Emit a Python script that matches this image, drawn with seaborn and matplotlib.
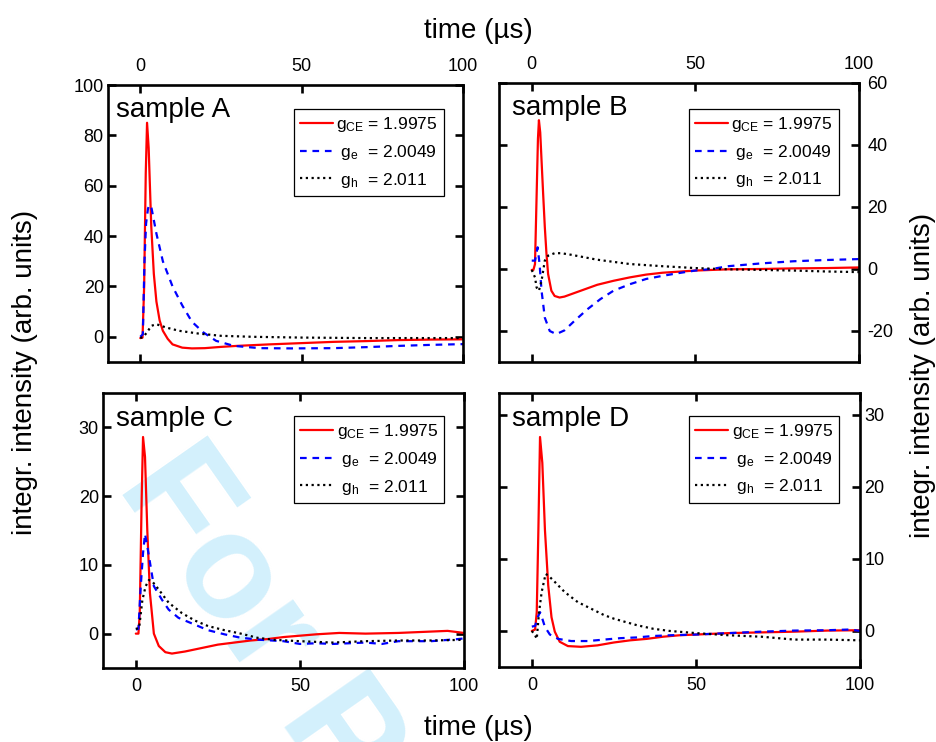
import pandas as pd
import matplotlib
matplotlib.use("Agg")
import matplotlib.pyplot as plt
import seaborn as sns

# sample A
tA_ce = [0, 0.7, 1.2, 1.7, 2.1, 2.6, 3.4, 4.2, 5, 6, 7, 8.5, 10, 13, 16, 20, 25, 30, 40, 50, 60, 70, 80, 90, 100]
A_ce = [-0.5, -0.3, 20, 65, 85, 75, 44, 25, 14, 6.5, 2.4, -0.8, -3, -4.3, -4.6, -4.5, -4, -3.6, -3, -2.5, -2, -1.7, -1.3, -1.1, -1]
tA_e = [0, 0.8, 1.3, 1.8, 2.4, 2.9, 3.5, 5, 7, 10, 13, 16, 19.5, 23.5, 29, 37, 47, 60, 70, 80, 90, 100]
A_e = [0, 1, 30, 45, 51, 52.4, 51, 41, 30, 20, 12.5, 6, 1.8, -1.6, -3.6, -4.5, -4.6, -4.5, -4.1, -3.6, -3.2, -2.9]
tA_h = [0, 1, 2, 3.5, 5, 8, 12, 18, 25, 35, 50, 70, 100]
A_h = [-0.5, 0, 1.7, 4.4, 5, 3.7, 2.4, 1.3, 0.4, 0, -0.3, -0.5, -0.5]

# sample B
tB_ce = [0, 0.5, 1, 1.5, 1.9, 2.2, 2.6, 3, 3.5, 4, 4.5, 5, 6, 7, 8.5, 10, 15, 20, 25, 30, 35, 40, 50, 60, 70, 80, 90, 100]
B_ce = [-0.3, -0.3, 1.6, 24, 42, 48, 44, 35, 24, 13.5, 5, -1.6, -7, -8.7, -9.2, -8.9, -7, -5.1, -3.8, -2.7, -1.8, -1.2, -0.5, -0.1, 0, 0.2, 0.3, 0.5]
tB_e = [0, 1, 1.8, 2.4, 3, 4, 5.5, 7.5, 10, 13, 17, 21, 25, 30, 35, 40, 45, 50, 55, 60, 70, 80, 90, 100]
B_e = [2.7, 2.7, 7, 1.6, -7, -15.7, -20, -21, -19.8, -16.8, -13, -9.7, -7, -4.9, -3.2, -2.2, -1.3, -0.5, 0, 0.9, 1.8, 2.5, 2.9, 3.2]
tB_h = [0, 1, 1.5, 2.2, 3, 4, 5, 7, 9, 12, 16, 20, 25, 30, 40, 50, 60, 70, 80, 90, 100]
B_h = [-0.3, -2.7, -6, -7, -3.8, 2.7, 4.3, 5.1, 5.1, 4.6, 3.8, 3, 2.3, 1.6, 0.9, 0.3, -0.1, -0.3, -0.5, -0.8, -1]

# sample C
tC_ce = [0, 0.8, 1.2, 1.8, 2.2, 2.8, 3.5, 4.3, 5.5, 7, 9, 11, 15, 20, 25, 30, 35, 40, 45, 50, 55, 62, 70, 80, 90, 95, 100]
C_ce = [0, 0, 3, 20, 28.6, 25.7, 15, 5.9, 0, -1.8, -2.7, -2.9, -2.6, -2.1, -1.6, -1.3, -1, -0.8, -0.5, -0.3, -0.1, 0.1, 0, 0.1, 0.3, 0.4, 0.1]
tC_e = [0, 0.8, 1.5, 2.2, 2.8, 3.5, 4.5, 5.5, 8, 10, 13, 17, 22, 27, 32, 38, 45, 50, 55, 60, 65, 70, 75, 80, 90, 98, 100]
C_e = [0.6, 0.7, 6.9, 11.7, 14.5, 12.7, 9.8, 6.9, 4.9, 3.5, 2.3, 1.5, 0.5, -0.1, -0.6, -0.9, -1.1, -1.5, -1.4, -1.5, -1.4, -1.3, -1.5, -1.1, -1.1, -0.8, -0.7]
tC_h = [0, 1, 2, 3, 4, 5, 7, 10, 14, 18, 22, 27, 32, 37, 42, 50, 60, 70, 80, 90, 100]
C_h = [0.7, 0.8, 4.9, 6.9, 7.8, 7.6, 6.4, 4.5, 3, 1.9, 1.1, 0.5, 0, -0.6, -0.9, -1.1, -1.3, -1.1, -1, -1, -0.9]

# sample D
tD_ce = [0, 1, 1.5, 2, 2.5, 3.2, 4, 5, 6, 7, 8.5, 11, 15, 20, 25, 30, 35, 40, 45, 50, 60, 70, 80, 90, 100]
D_ce = [0, 0.2, 2.6, 14, 26.9, 23.3, 14, 6.3, 1.9, -0.1, -1.5, -2.1, -2.2, -2, -1.6, -1.3, -1.1, -0.8, -0.6, -0.5, -0.3, -0.2, -0.1, 0.05, 0.1]
tD_e = [0, 1, 2, 2.5, 3.2, 4, 5.5, 8, 12, 17, 22, 27, 32, 37, 42, 50, 55, 60, 70, 80, 90, 97, 100]
D_e = [0.6, 0.7, 2.1, 2.6, 1.7, 0.55, -0.5, -1.1, -1.4, -1.4, -1.2, -1, -0.9, -0.7, -0.6, -0.5, -0.4, -0.3, -0.1, 0.05, 0.1, 0.2, 0]
tD_h = [0, 1, 1.5, 2.2, 3, 4.2, 5, 7, 10, 14, 18, 22, 25, 32, 37, 42, 50, 60, 70, 80, 90, 100]
D_h = [0, -0.6, -1.1, 2.6, 5.4, 7.9, 7.7, 6.8, 5.4, 4, 3.1, 2.2, 1.7, 0.8, 0.3, 0, -0.3, -0.6, -0.8, -1.2, -1.2, -1.3]

labels = [r'$\mathregular{g_{CE}}$ = 1.9975', r' $\mathregular{g_{e}}$  = 2.0049', r' $\mathregular{g_{h}}$  = 2.011']
samples = ['sample A', 'sample B', 'sample C', 'sample D']
yticks = [[0, 20, 40, 60, 80, 100], [-20, 0, 20, 40, 60], [0, 10, 20, 30], [0, 10, 20, 30]]
ylims = [(-10, 100), (-30, 60), (-5, 35), (-5, 33)]

data = [
    [(tA_ce, A_ce), (tA_e, A_e), (tA_h, A_h)],
    [(tB_ce, B_ce), (tB_e, B_e), (tB_h, B_h)],
    [(tC_ce, C_ce), (tC_e, C_e), (tC_h, C_h)],
    [(tD_ce, D_ce), (tD_e, D_e), (tD_h, D_h)],
]

sns.set_theme(style='ticks')
plt.rcParams['font.family'] = ['Liberation Sans', 'DejaVu Sans']
plt.rcParams['mathtext.fontset'] = 'custom'
plt.rcParams['mathtext.rm'] = 'Liberation Sans'
plt.rcParams['axes.unicode_minus'] = False
for k in ['text.color', 'axes.labelcolor', 'xtick.color', 'ytick.color', 'axes.edgecolor']:
    plt.rcParams[k] = 'black'

colors = ['#ff0000', '#0000ff', 'black']
styles = ['-', (0, (3, 2.6)), (0, (1, 1.6))]

fig = plt.figure(figsize=(9.36, 7.42), dpi=100)

# watermark behind the panels
fig.text(116/936, 1 - 486/742, 'For Peer Review', fontsize=108, fontweight='bold',
         color='#d3f0fc', rotation=-55, rotation_mode='anchor', ha='left', va='baseline', zorder=-5)

rects = [
    [108/936, 1 - 362/742, 355/936, 277/742],
    [499/936, 1 - 362/742, 360/936, 279/742],
    [103/936, 1 - 668/742, 361/936, 275/742],
    [499/936, 1 - 667/742, 361/936, 274/742],
]
leg_anchor = [(0.946, 0.913), (0.944, 0.907), (0.945, 0.916), (0.942, 0.916)]
txt_pos = [(0.023, 0.885), (0.036, 0.885), (0.036, 0.88), (0.036, 0.88)]

for i in range(4):
    ax = fig.add_axes(rects[i])
    ax.patch.set_alpha(0)
    for j, (t, v) in enumerate(data[i]):
        df = pd.DataFrame({'t': t, 'v': v})
        sns.lineplot(data=df, x='t', y='v', ax=ax, color=colors[j], linestyle=styles[j],
                     linewidth=1.6, label=labels[j], errorbar=None)
    ax.set_xlim(-10, 100)
    ax.set_ylim(*ylims[i])
    ax.set_xticks([0, 50, 100])
    ax.set_yticks(yticks[i])
    ax.set_xlabel('')
    ax.set_ylabel('')
    for s in ax.spines.values():
        s.set_linewidth(1.9)
    top = i < 2
    right = i % 2 == 1
    ax.tick_params(axis='both', direction='in', length=6, width=1.9, labelsize=13,
                   top=True, right=True, bottom=True, left=True)
    ax.tick_params(axis='x', labeltop=top, labelbottom=not top, pad=7)
    ax.tick_params(axis='y', labelleft=not right, labelright=right, pad=6 if i == 1 else 3)
    ax.text(*txt_pos[i], samples[i], transform=ax.transAxes, fontsize=20, va='baseline')
    leg = ax.legend(loc='upper right', bbox_to_anchor=leg_anchor[i], fontsize=12.5, frameon=True,
                    fancybox=False, edgecolor='black', framealpha=1, borderaxespad=0,
                    handlelength=1.9, handletextpad=0.2, labelspacing=0.5, borderpad=0.35)
    leg.get_frame().set_linewidth(0.9)

fig.text(478/936, 1 - 31/742, 'time (µs)', ha='center', va='center', fontsize=20)
fig.text(478/936, 1 - 728/742, 'time (µs)', ha='center', va='center', fontsize=20)
fig.text(25/936, 1 - 372/742, 'integr. intensity (arb. units)', rotation=90, ha='center', va='center', fontsize=20)
fig.text(923/936, 1 - 375/742, 'integr. intensity (arb. units)', rotation=90, ha='center', va='center', fontsize=20)

fig.savefig('out.png', dpi=100)
